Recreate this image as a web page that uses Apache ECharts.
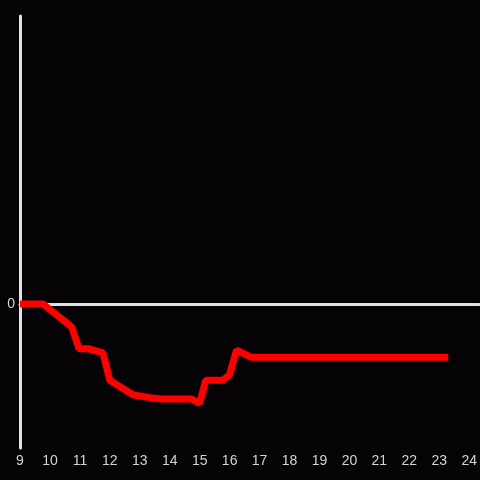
<!DOCTYPE html>
<html>
<head>
<meta charset="utf-8">
<script src="https://cdn.jsdelivr.net/npm/echarts@6/dist/echarts.min.js"></script>
<style>
  html, body { margin: 0; padding: 0; background: #050306; }
  #chart { width: 480px; height: 480px; }
</style>
</head>
<body>
<div id="chart"></div>
<script>
// x positions (hours) and values
const xValues = [9.0, 9.77, 10.73, 10.97, 11.27, 11.77, 12.0, 12.23, 12.77, 13.33, 13.73, 14.73, 15.0, 15.2, 15.77, 16.0, 16.23, 16.73, 23.3];
const yValues = [0, 0, -0.16, -0.31, -0.31, -0.34, -0.53, -0.56, -0.63, -0.65, -0.66, -0.66, -0.69, -0.53, -0.53, -0.49, -0.32, -0.37, -0.37];
const xTicks = [9, 10, 11, 12, 13, 14, 15, 16, 17, 18, 19, 20, 21, 22, 23, 24];

const chart = echarts.init(document.getElementById("chart"));

const points = xValues.map((x, i) => [x, yValues[i]]);
const axisColor = "#e2e2e2";
const labelColor = "#d4d4d4";

const option = {
  backgroundColor: "#050306",
  animation: false,
  grid: { left: 20, right: 0, top: 16, bottom: 32 },
  xAxis: [
    {
      type: "value",
      min: 9,
      max: 24.333,
      interval: 1,
      axisLine: { show: false, onZero: false },
      axisTick: { show: false },
      splitLine: { show: false },
      axisLabel: {
        color: labelColor,
        fontSize: 14,
        margin: 6,
        showMaxLabel: false,
        formatter: (v) => (xTicks.includes(v) ? String(v) : ""),
      },
    },
    {
      // zero line
      type: "value",
      min: 9,
      max: 24.333,
      position: "bottom",
      axisLine: { show: true, onZero: true, lineStyle: { color: axisColor, width: 3 } },
      axisTick: { show: false },
      axisLabel: { show: false },
      splitLine: { show: false },
    },
  ],
  yAxis: {
    type: "value",
    min: -1,
    max: 2,
    interval: 1,
    axisLine: { show: true, lineStyle: { color: axisColor, width: 3 } },
    axisTick: { show: false },
    splitLine: { show: false },
    axisLabel: {
      color: labelColor,
      fontSize: 14,
      margin: 5,
      formatter: (v) => (v === 0 ? "0" : ""),
    },
  },
  series: [
    {
      type: "line",
      data: points,
      symbol: "none",
      lineStyle: { color: "#ff0000", width: 7 },
    },
  ],
};

chart.setOption(option);
</script>
</body>
</html>
